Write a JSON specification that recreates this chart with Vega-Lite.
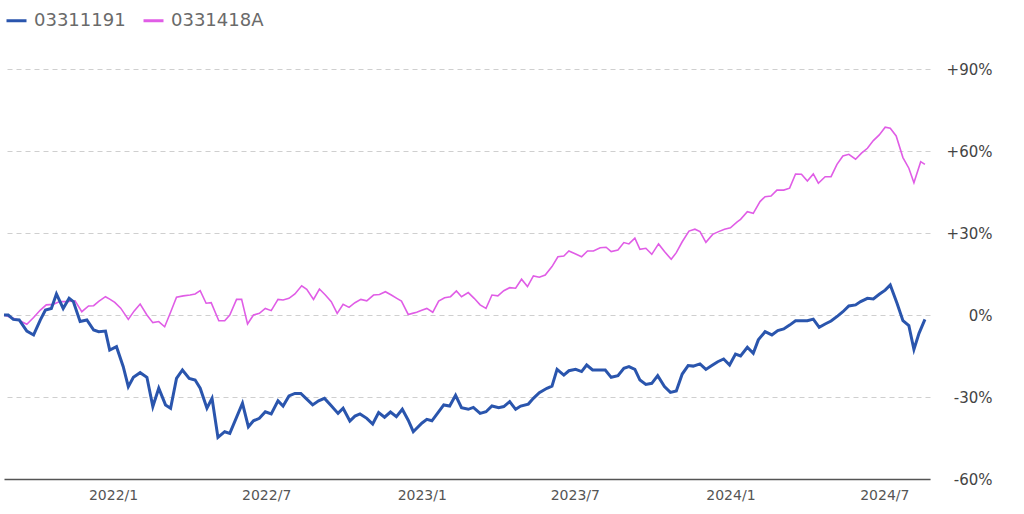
{
  "$schema": "https://vega.github.io/schema/vega-lite/v6.json",
  "width": 926,
  "height": 410,
  "autosize": {"type": "none"},
  "padding": {"left": 4, "top": 69, "right": 94, "bottom": 35},
  "background": "white",
  "config": {
    "view": {"stroke": null},
    "font": "DejaVu Sans"
  },
  "datasets": {
    "blue": [
      {"d":"2021-08-25","v":0},{"d":"2021-08-30","v":0},{"d":"2021-09-05","v":-1.6},{"d":"2021-09-12","v":-1.8},{"d":"2021-09-21","v":-5.9},{"d":"2021-09-29","v":-7.3},{"d":"2021-10-07","v":-1.8},{"d":"2021-10-13","v":1.8},{"d":"2021-10-20","v":2.4},{"d":"2021-10-26","v":7.7},{"d":"2021-11-03","v":2.4},{"d":"2021-11-10","v":6.1},{"d":"2021-11-15","v":4.9},{"d":"2021-11-23","v":-2.4},{"d":"2021-12-01","v":-1.8},{"d":"2021-12-09","v":-5.5},{"d":"2021-12-15","v":-6.1},{"d":"2021-12-23","v":-5.9},{"d":"2021-12-28","v":-12.8},
      {"d":"2022-01-05","v":-11.6},{"d":"2022-01-13","v":-18.9},{"d":"2022-01-19","v":-26.2},{"d":"2022-01-25","v":-22.8},{"d":"2022-02-02","v":-21.1},{"d":"2022-02-10","v":-22.8},{"d":"2022-02-17","v":-33.5},{"d":"2022-02-24","v":-26.8},{"d":"2022-03-04","v":-32.9},{"d":"2022-03-10","v":-34.1},{"d":"2022-03-17","v":-23.2},{"d":"2022-03-24","v":-20.1},{"d":"2022-04-01","v":-23.2},{"d":"2022-04-08","v":-23.8},{"d":"2022-04-14","v":-26.8},{"d":"2022-04-22","v":-34.1},{"d":"2022-04-28","v":-30.5},{"d":"2022-05-05","v":-44.8},{"d":"2022-05-13","v":-42.7},{"d":"2022-05-19","v":-43.3},{"d":"2022-06-03","v":-32.3},{"d":"2022-06-10","v":-40.9},{"d":"2022-06-16","v":-38.7},{"d":"2022-06-23","v":-37.8},{"d":"2022-06-30","v":-35.4},{"d":"2022-07-07","v":-36.2},{"d":"2022-07-15","v":-31.4},{"d":"2022-07-21","v":-33.3},{"d":"2022-07-28","v":-29.6},{"d":"2022-08-04","v":-28.7},{"d":"2022-08-11","v":-28.7},{"d":"2022-08-18","v":-30.8},{"d":"2022-08-25","v":-32.9},{"d":"2022-09-01","v":-31.4},{"d":"2022-09-08","v":-30.5},{"d":"2022-09-16","v":-33.2},{"d":"2022-09-24","v":-36.0},{"d":"2022-09-30","v":-34.1},{"d":"2022-10-08","v":-38.8},{"d":"2022-10-14","v":-37.0},{"d":"2022-10-20","v":-36.2},{"d":"2022-10-28","v":-37.8},{"d":"2022-11-04","v":-39.9},{"d":"2022-11-11","v":-35.7},{"d":"2022-11-18","v":-37.4},{"d":"2022-11-25","v":-35.5},{"d":"2022-12-02","v":-37.2},{"d":"2022-12-09","v":-34.5},{"d":"2022-12-16","v":-38.5},{"d":"2022-12-22","v":-42.7},
      {"d":"2023-01-01","v":-39.6},{"d":"2023-01-07","v":-38.2},{"d":"2023-01-13","v":-38.7},{"d":"2023-01-20","v":-35.8},{"d":"2023-01-27","v":-32.9},{"d":"2023-02-03","v":-33.3},{"d":"2023-02-10","v":-29.4},{"d":"2023-02-17","v":-33.9},{"d":"2023-02-25","v":-34.5},{"d":"2023-03-03","v":-33.8},{"d":"2023-03-11","v":-36.0},{"d":"2023-03-18","v":-35.4},{"d":"2023-03-25","v":-33.3},{"d":"2023-04-02","v":-33.9},{"d":"2023-04-08","v":-33.5},{"d":"2023-04-15","v":-31.7},{"d":"2023-04-22","v":-34.5},{"d":"2023-04-28","v":-33.3},{"d":"2023-05-07","v":-32.6},{"d":"2023-05-13","v":-30.5},{"d":"2023-05-20","v":-28.4},{"d":"2023-05-29","v":-26.8},{"d":"2023-06-04","v":-26.0},{"d":"2023-06-10","v":-19.9},{"d":"2023-06-18","v":-22.0},{"d":"2023-06-24","v":-20.4},{"d":"2023-07-02","v":-19.9},{"d":"2023-07-09","v":-20.7},{"d":"2023-07-15","v":-18.3},{"d":"2023-07-22","v":-20.1},{"d":"2023-07-30","v":-20.1},{"d":"2023-08-06","v":-20.1},{"d":"2023-08-13","v":-22.8},{"d":"2023-08-21","v":-22.2},{"d":"2023-08-28","v":-19.5},{"d":"2023-09-03","v":-18.9},{"d":"2023-09-10","v":-19.9},{"d":"2023-09-16","v":-23.8},{"d":"2023-09-23","v":-25.4},{"d":"2023-09-30","v":-25.0},{"d":"2023-10-07","v":-22.2},{"d":"2023-10-15","v":-26.2},{"d":"2023-10-22","v":-28.3},{"d":"2023-10-29","v":-27.8},{"d":"2023-11-05","v":-21.6},{"d":"2023-11-12","v":-18.5},{"d":"2023-11-18","v":-18.7},{"d":"2023-11-26","v":-17.9},{"d":"2023-12-03","v":-19.9},{"d":"2023-12-10","v":-18.5},{"d":"2023-12-17","v":-17.1},{"d":"2023-12-24","v":-16.1},{"d":"2023-12-31","v":-18.3},
      {"d":"2024-01-07","v":-14.3},{"d":"2024-01-13","v":-15.0},{"d":"2024-01-21","v":-11.8},{"d":"2024-01-28","v":-14.0},{"d":"2024-02-03","v":-9.1},{"d":"2024-02-11","v":-6.1},{"d":"2024-02-19","v":-7.3},{"d":"2024-02-26","v":-5.7},{"d":"2024-03-04","v":-5.1},{"d":"2024-03-11","v":-3.7},{"d":"2024-03-18","v":-2.1},{"d":"2024-03-26","v":-2.1},{"d":"2024-04-01","v":-2.1},{"d":"2024-04-08","v":-1.5},{"d":"2024-04-15","v":-4.5},{"d":"2024-04-22","v":-3.3},{"d":"2024-04-29","v":-2.2},{"d":"2024-05-07","v":-0.3},{"d":"2024-05-13","v":1.2},{"d":"2024-05-20","v":3.3},{"d":"2024-05-28","v":3.7},{"d":"2024-06-03","v":4.9},{"d":"2024-06-11","v":6.1},{"d":"2024-06-18","v":5.9},{"d":"2024-06-25","v":7.6},{"d":"2024-07-02","v":9.1},{"d":"2024-07-08","v":11.0},{"d":"2024-07-16","v":4.3},{"d":"2024-07-23","v":-2.1},{"d":"2024-07-30","v":-3.9},{"d":"2024-08-05","v":-12.6},{"d":"2024-08-11","v":-6.7},{"d":"2024-08-18","v":-1.6}
    ],
    "pink": [
      {"d":"2021-08-25","v":0},{"d":"2021-09-05","v":-1.2},{"d":"2021-09-12","v":-2.0},{"d":"2021-09-21","v":-3.4},{"d":"2021-09-29","v":-0.9},{"d":"2021-10-07","v":1.8},{"d":"2021-10-14","v":3.7},{"d":"2021-10-22","v":3.9},{"d":"2021-10-30","v":4.9},{"d":"2021-11-07","v":4.9},{"d":"2021-11-17","v":5.2},{"d":"2021-11-25","v":1.2},{"d":"2021-12-03","v":3.3},{"d":"2021-12-09","v":3.4},{"d":"2021-12-15","v":5.0},{"d":"2021-12-23","v":6.7},{"d":"2021-12-28","v":5.8},
      {"d":"2022-01-03","v":4.6},{"d":"2022-01-10","v":2.5},{"d":"2022-01-19","v":-1.6},{"d":"2022-01-26","v":1.5},{"d":"2022-02-02","v":4.0},{"d":"2022-02-10","v":0},{"d":"2022-02-17","v":-2.8},{"d":"2022-02-24","v":-2.4},{"d":"2022-03-03","v":-4.3},{"d":"2022-03-10","v":1.0},{"d":"2022-03-17","v":6.5},{"d":"2022-03-25","v":7.0},{"d":"2022-04-02","v":7.3},{"d":"2022-04-08","v":7.7},{"d":"2022-04-14","v":8.9},{"d":"2022-04-21","v":4.3},{"d":"2022-04-27","v":4.5},{"d":"2022-05-06","v":-2.1},{"d":"2022-05-13","v":-2.1},{"d":"2022-05-19","v":0},{"d":"2022-05-27","v":5.7},{"d":"2022-06-02","v":5.7},{"d":"2022-06-09","v":-3.3},{"d":"2022-06-16","v":0},{"d":"2022-06-23","v":0.6},{"d":"2022-06-30","v":2.4},{"d":"2022-07-07","v":1.6},{"d":"2022-07-15","v":5.7},{"d":"2022-07-21","v":5.5},{"d":"2022-07-28","v":6.1},{"d":"2022-08-04","v":7.7},{"d":"2022-08-12","v":10.7},{"d":"2022-08-18","v":9.4},{"d":"2022-08-26","v":5.7},{"d":"2022-09-02","v":9.5},{"d":"2022-09-09","v":7.3},{"d":"2022-09-16","v":4.9},{"d":"2022-09-23","v":0.6},{"d":"2022-09-30","v":3.9},{"d":"2022-10-07","v":2.8},{"d":"2022-10-14","v":4.5},{"d":"2022-10-21","v":5.7},{"d":"2022-10-28","v":5.2},{"d":"2022-11-05","v":7.3},{"d":"2022-11-12","v":7.5},{"d":"2022-11-19","v":8.5},{"d":"2022-11-26","v":7.3},{"d":"2022-12-03","v":6.0},{"d":"2022-12-08","v":5.1},{"d":"2022-12-16","v":0.2},{"d":"2022-12-21","v":0.6},{"d":"2022-12-26","v":1.0},
      {"d":"2023-01-01","v":1.7},{"d":"2023-01-07","v":2.4},{"d":"2023-01-14","v":1.0},{"d":"2023-01-21","v":5.1},{"d":"2023-01-28","v":6.3},{"d":"2023-02-04","v":6.7},{"d":"2023-02-11","v":8.8},{"d":"2023-02-17","v":6.7},{"d":"2023-02-25","v":8.2},{"d":"2023-03-04","v":6.1},{"d":"2023-03-11","v":3.7},{"d":"2023-03-18","v":2.4},{"d":"2023-03-25","v":7.3},{"d":"2023-04-01","v":7.0},{"d":"2023-04-08","v":8.9},{"d":"2023-04-15","v":10.0},{"d":"2023-04-22","v":9.8},{"d":"2023-04-29","v":13.1},{"d":"2023-05-06","v":10.4},{"d":"2023-05-13","v":14.3},{"d":"2023-05-20","v":13.8},{"d":"2023-05-27","v":14.6},{"d":"2023-06-04","v":17.7},{"d":"2023-06-11","v":21.3},{"d":"2023-06-18","v":21.6},{"d":"2023-06-24","v":23.4},{"d":"2023-07-02","v":22.3},{"d":"2023-07-09","v":21.3},{"d":"2023-07-16","v":23.4},{"d":"2023-07-23","v":23.4},{"d":"2023-07-31","v":24.6},{"d":"2023-08-07","v":24.8},{"d":"2023-08-13","v":23.2},{"d":"2023-08-21","v":23.8},{"d":"2023-08-28","v":26.5},{"d":"2023-09-03","v":26.0},{"d":"2023-09-10","v":28.1},{"d":"2023-09-16","v":24.0},{"d":"2023-09-23","v":24.4},{"d":"2023-09-30","v":22.2},{"d":"2023-10-08","v":26.0},{"d":"2023-10-15","v":23.2},{"d":"2023-10-23","v":20.4},{"d":"2023-10-29","v":22.8},{"d":"2023-11-05","v":26.8},{"d":"2023-11-13","v":30.7},{"d":"2023-11-20","v":31.4},{"d":"2023-11-26","v":30.5},{"d":"2023-12-03","v":26.6},{"d":"2023-12-11","v":29.5},{"d":"2023-12-18","v":30.5},{"d":"2023-12-25","v":31.4},
      {"d":"2024-01-01","v":31.9},{"d":"2024-01-09","v":34.1},{"d":"2024-01-13","v":35.0},{"d":"2024-01-21","v":37.8},{"d":"2024-01-28","v":37.2},{"d":"2024-02-05","v":41.5},{"d":"2024-02-11","v":43.3},{"d":"2024-02-18","v":43.5},{"d":"2024-02-25","v":45.7},{"d":"2024-03-04","v":45.7},{"d":"2024-03-11","v":46.4},{"d":"2024-03-18","v":51.6},{"d":"2024-03-25","v":51.5},{"d":"2024-04-01","v":49.0},{"d":"2024-04-08","v":51.6},{"d":"2024-04-14","v":48.2},{"d":"2024-04-22","v":50.6},{"d":"2024-04-29","v":50.6},{"d":"2024-05-06","v":55.1},{"d":"2024-05-13","v":58.2},{"d":"2024-05-20","v":58.8},{"d":"2024-05-28","v":57.0},{"d":"2024-06-04","v":59.2},{"d":"2024-06-11","v":61.0},{"d":"2024-06-18","v":63.8},{"d":"2024-06-25","v":65.9},{"d":"2024-07-02","v":68.7},{"d":"2024-07-08","v":68.3},{"d":"2024-07-15","v":65.5},{"d":"2024-07-23","v":57.6},{"d":"2024-07-30","v":53.7},{"d":"2024-08-05","v":48.4},{"d":"2024-08-13","v":56.1},{"d":"2024-08-18","v":55.1}
    ]
  },
  "encoding": {
    "x": {
      "field": "d",
      "type": "temporal",
      "scale": {"type": "utc", "domain": [{"year": 2021, "month": 8, "date": 25, "utc": true}, {"year": 2024, "month": 8, "date": 24, "utc": true}]},
      "axis": {
        "title": null,
        "values": [
          {"year": 2022, "month": 1, "date": 1, "utc": true},
          {"year": 2022, "month": 7, "date": 1, "utc": true},
          {"year": 2023, "month": 1, "date": 1, "utc": true},
          {"year": 2023, "month": 7, "date": 1, "utc": true},
          {"year": 2024, "month": 1, "date": 1, "utc": true},
          {"year": 2024, "month": 7, "date": 1, "utc": true}
        ],
        "format": "%Y/%-m",
        "grid": false,
        "ticks": false,
        "domain": true,
        "domainColor": "#555555",
        "domainWidth": 1.5,
        "labelFont": "DejaVu Sans",
        "labelFontSize": 14,
        "labelColor": "#555555",
        "labelPadding": 9,
        "labelFlush": false
      }
    },
    "y": {
      "field": "v",
      "type": "quantitative",
      "scale": {"domain": [-60, 90], "nice": false, "zero": false},
      "axis": {
        "title": null,
        "orient": "right",
        "values": [-60, -30, 0, 30, 60, 90],
        "labelExpr": "datum.value > 0 ? '+' + datum.value + '%' : datum.value + '%'",
        "domain": false,
        "ticks": false,
        "grid": true,
        "gridColor": "#cfcfcf",
        "gridDash": [5, 4],
        "gridWidth": 1,
        "labelFont": "DejaVu Sans",
        "labelFontSize": 15,
        "labelColor": "#444444",
        "labelAlign": "right",
        "labelPadding": 62
      }
    }
  },
  "layer": [
    {
      "data": {"name": "pink"},
      "mark": {"type": "line", "strokeWidth": 1.6, "interpolate": "linear"},
      "encoding": {
        "color": {
          "datum": "0331418A",
          "scale": {"domain": ["03311191", "0331418A"], "range": ["#2a55ad", "#e05de6"]},
          "legend": {
            "title": null,
            "orient": "none",
            "legendX": 1,
            "legendY": -60,
            "direction": "horizontal",
            "symbolType": "stroke",
            "symbolSize": 400,
            "symbolStrokeWidth": 3,
            "labelFont": "DejaVu Sans",
            "labelFontSize": 18,
            "labelColor": "#6a6a6a",
            "columnPadding": 11,
            "labelOffset": 6
          }
        }
      }
    },
    {
      "data": {"name": "blue"},
      "mark": {"type": "line", "strokeWidth": 3, "interpolate": "linear"},
      "encoding": {
        "color": {"datum": "03311191"}
      }
    }
  ]
}
